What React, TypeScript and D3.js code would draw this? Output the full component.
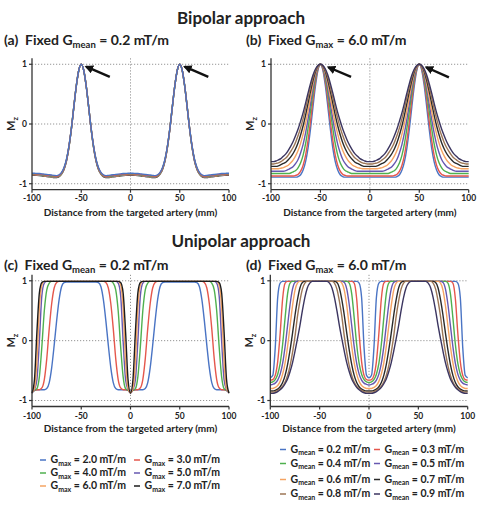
import React from 'react';
import * as d3 from 'd3';

// Offsets (mm) from each labeling-plane centre at which the half-profiles are sampled
const OFFSETS = [0, 2.5, 5, 7.5, 10, 12.5, 15, 17.5, 20, 22.5, 25, 27.5, 30, 32.5, 35, 37.5, 40, 42.5, 45, 47.5, 50];
const PEAK_CENTERS = [-50, 50];
const X_TICKS = [-100, -50, 0, 50, 100];
const Y_TICKS = [-1, 0, 1];

const GMAX_LABELS = ['2.0', '3.0', '4.0', '5.0', '6.0', '7.0'];
const GMEAN_LABELS = ['0.2', '0.3', '0.4', '0.5', '0.6', '0.7', '0.8', '0.9'];

const GMAX_COLORS = ['#4a74c4', '#e5574c', '#4fb04f', '#6658b0', '#f5a463', '#1c1c1c'];
const GMEAN_COLORS = ['#4a74c4', '#e5574c', '#4fb04f', '#6658b0', '#f5a463', '#2a2a2a', '#9c7656', '#3b3560'];

// (a) Bipolar, fixed Gmean = 0.2 mT/m, one half-profile per Gmax
const A_G20 = [1, 0.9, 0.64, 0.29, -0.07, -0.37, -0.59, -0.73, -0.81, -0.85, -0.865, -0.86, -0.855, -0.85, -0.845, -0.84, -0.835, -0.83, -0.83, -0.825, -0.825];
const A_G30 = [1, 0.9, 0.64, 0.29, -0.07, -0.37, -0.6, -0.74, -0.82, -0.86, -0.875, -0.87, -0.865, -0.86, -0.855, -0.85, -0.845, -0.84, -0.84, -0.835, -0.835];
const A_G40 = [1, 0.9, 0.64, 0.29, -0.07, -0.38, -0.6, -0.745, -0.825, -0.865, -0.88, -0.878, -0.872, -0.866, -0.86, -0.855, -0.85, -0.846, -0.843, -0.84, -0.84];
const A_G50 = [1, 0.9, 0.64, 0.29, -0.08, -0.38, -0.61, -0.75, -0.83, -0.87, -0.886, -0.884, -0.878, -0.872, -0.866, -0.86, -0.855, -0.851, -0.848, -0.846, -0.845];
const A_G60 = [1, 0.9, 0.64, 0.29, -0.08, -0.39, -0.61, -0.755, -0.835, -0.875, -0.89, -0.89, -0.884, -0.878, -0.872, -0.866, -0.861, -0.857, -0.854, -0.852, -0.851];
const A_G70 = [1, 0.9, 0.64, 0.29, -0.08, -0.39, -0.62, -0.76, -0.84, -0.88, -0.895, -0.895, -0.89, -0.884, -0.878, -0.872, -0.867, -0.863, -0.86, -0.858, -0.857];

// (b) Bipolar, fixed Gmax = 6.0 mT/m, one half-profile per Gmean
const B_M02 = [1, 0.9, 0.64, 0.29, -0.08, -0.4, -0.63, -0.77, -0.85, -0.88, -0.89, -0.89, -0.89, -0.89, -0.89, -0.89, -0.89, -0.89, -0.89, -0.89, -0.89];
const B_M03 = [1, 0.92, 0.71, 0.41, 0.05, -0.27, -0.52, -0.69, -0.79, -0.84, -0.86, -0.87, -0.87, -0.87, -0.87, -0.87, -0.87, -0.87, -0.87, -0.87, -0.87];
const B_M04 = [1, 0.94, 0.77, 0.52, 0.22, -0.07, -0.33, -0.52, -0.65, -0.73, -0.78, -0.8, -0.82, -0.83, -0.83, -0.83, -0.83, -0.83, -0.83, -0.83, -0.83];
const B_M05 = [1, 0.95, 0.81, 0.6, 0.34, 0.08, -0.15, -0.34, -0.48, -0.59, -0.66, -0.71, -0.74, -0.76, -0.78, -0.79, -0.79, -0.79, -0.79, -0.79, -0.79];
const B_M06 = [1, 0.96, 0.85, 0.67, 0.45, 0.22, 0.01, -0.17, -0.32, -0.44, -0.53, -0.6, -0.65, -0.69, -0.71, -0.73, -0.74, -0.75, -0.75, -0.75, -0.75];
const B_M07 = [1, 0.97, 0.88, 0.73, 0.55, 0.35, 0.15, -0.03, -0.18, -0.31, -0.41, -0.49, -0.55, -0.6, -0.64, -0.66, -0.68, -0.7, -0.71, -0.71, -0.71];
const B_M08 = [1, 0.97, 0.9, 0.78, 0.62, 0.44, 0.26, 0.09, -0.06, -0.19, -0.3, -0.39, -0.46, -0.52, -0.57, -0.6, -0.63, -0.65, -0.66, -0.67, -0.67];
const B_M09 = [1, 0.98, 0.92, 0.82, 0.68, 0.52, 0.35, 0.19, 0.05, -0.08, -0.19, -0.29, -0.37, -0.44, -0.5, -0.54, -0.58, -0.6, -0.62, -0.63, -0.63];

// (c) Unipolar, fixed Gmean = 0.2 mT/m, one half-profile per Gmax
const C_G20 = [0.98, 0.98, 0.98, 0.98, 0.98, 0.98, 0.98, 0.97, 0.9, 0.68, 0.33, -0.08, -0.45, -0.7, -0.8, -0.82, -0.82, -0.82, -0.82, -0.83, -0.84];
const C_G30 = [0.99, 0.99, 0.99, 0.99, 0.99, 0.99, 0.99, 0.99, 0.99, 0.99, 0.97, 0.88, 0.62, 0.2, -0.3, -0.65, -0.79, -0.82, -0.82, -0.83, -0.85];
const C_G40 = [0.99, 0.99, 0.99, 0.99, 0.99, 0.99, 0.99, 0.99, 0.99, 0.99, 0.99, 0.99, 0.99, 0.96, 0.85, 0.5, -0.1, -0.6, -0.8, -0.83, -0.86];
const C_G50 = [0.99, 0.99, 0.99, 0.99, 0.99, 0.99, 0.99, 0.99, 0.99, 0.99, 0.99, 0.99, 0.99, 0.99, 0.99, 0.96, 0.75, 0.0, -0.65, -0.82, -0.87];
const C_G60 = [0.99, 0.99, 0.99, 0.99, 0.99, 0.99, 0.99, 0.99, 0.99, 0.99, 0.99, 0.99, 0.99, 0.99, 0.99, 0.99, 0.93, 0.55, -0.35, -0.8, -0.87];
const C_G70 = [0.99, 0.99, 0.99, 0.99, 0.99, 0.99, 0.99, 0.99, 0.99, 0.99, 0.99, 0.99, 0.99, 0.99, 0.99, 0.99, 0.97, 0.8, 0.15, -0.65, -0.88];

// (d) Unipolar, fixed Gmax = 6.0 mT/m, one half-profile per Gmean
const D_M02 = [0.99, 0.99, 0.99, 0.99, 0.99, 0.99, 0.99, 0.99, 0.99, 0.99, 0.99, 0.99, 0.99, 0.99, 0.99, 0.99, 0.96, 0.72, -0.12, -0.58, -0.62];
const D_M03 = [0.99, 0.99, 0.99, 0.99, 0.99, 0.99, 0.99, 0.99, 0.99, 0.99, 0.99, 0.99, 0.99, 0.99, 0.96, 0.7, 0.12, -0.35, -0.58, -0.65, -0.66];
const D_M04 = [0.99, 0.99, 0.99, 0.99, 0.99, 0.99, 0.99, 0.99, 0.99, 0.99, 0.99, 0.99, 0.96, 0.78, 0.38, -0.06, -0.38, -0.56, -0.65, -0.69, -0.7];
const D_M05 = [0.99, 0.99, 0.99, 0.99, 0.99, 0.99, 0.99, 0.99, 0.99, 0.99, 0.97, 0.86, 0.6, 0.25, -0.1, -0.38, -0.56, -0.66, -0.71, -0.73, -0.74];
const D_M06 = [0.99, 0.99, 0.99, 0.99, 0.99, 0.99, 0.99, 0.99, 0.99, 0.96, 0.84, 0.58, 0.24, -0.1, -0.37, -0.56, -0.68, -0.75, -0.78, -0.8, -0.8];
const D_M07 = [0.99, 0.99, 0.99, 0.99, 0.99, 0.99, 0.99, 0.97, 0.88, 0.68, 0.42, 0.12, -0.16, -0.4, -0.58, -0.7, -0.77, -0.81, -0.83, -0.84, -0.84];
const D_M08 = [0.99, 0.99, 0.99, 0.99, 0.99, 0.99, 0.96, 0.86, 0.66, 0.4, 0.07, -0.2, -0.42, -0.58, -0.69, -0.76, -0.8, -0.83, -0.85, -0.86, -0.86];
const D_M09 = [0.99, 0.99, 0.99, 0.99, 0.96, 0.88, 0.72, 0.5, 0.25, 0.03, -0.18, -0.37, -0.52, -0.64, -0.72, -0.78, -0.82, -0.85, -0.87, -0.88, -0.88];

const A_SERIES = [A_G20, A_G30, A_G40, A_G50, A_G60, A_G70];
const B_SERIES = [B_M02, B_M03, B_M04, B_M05, B_M06, B_M07, B_M08, B_M09];
const C_SERIES = [C_G20, C_G30, C_G40, C_G50, C_G60, C_G70];
const D_SERIES = [D_M02, D_M03, D_M04, D_M05, D_M06, D_M07, D_M08, D_M09];

// Arrows marking the labeling planes: [headX, headY, tailX, tailY] in data units
const ARROWS_A = [[-45, 0.96, -21, 0.79], [55, 0.96, 79, 0.79]];
const ARROWS_B = [[-42, 0.95, -19, 0.79], [57, 0.95, 80, 0.78]];

const FONT = "Lato, 'Open Sans', sans-serif";

type Pt = [number, number];

// Unfold a half-profile into the full -100..100 mm profile around both planes
function unfold(half: number[]): Pt[] {
  const pts: Pt[] = [];
  PEAK_CENTERS.forEach((c, pi) => {
    for (let i = OFFSETS.length - 1; i >= 0; i--) {
      if (pi > 0 && i === OFFSETS.length - 1) continue;
      pts.push([c - OFFSETS[i], half[i]]);
    }
    for (let i = 1; i < OFFSETS.length; i++) pts.push([c + OFFSETS[i], half[i]]);
  });
  return pts;
}

interface PanelProps {
  left: number;
  right: number;
  top: number;
  bottom: number;
  series: number[][];
  colors: string[];
  arrows?: number[][];
  topFirst?: boolean;
  tickBaseline: number;
  titleBaseline: number;
}

function Panel({ left, right, top, bottom, series, colors, arrows, topFirst, tickBaseline, titleBaseline }: PanelProps) {
  const x = d3.scaleLinear().domain([-100, 100]).range([left, right]);
  const y = d3.scaleLinear().domain([-1.1, 1.1]).range([bottom, top]);
  const line = d3.line<Pt>().x(d => x(d[0])).y(d => y(d[1])).curve(d3.curveMonotoneX);
  const order = series.map((_, i) => i);
  if (topFirst) order.reverse();
  const midY = (top + bottom) / 2;
  return (
    <g>
      {/* dotted reference lines */}
      {Y_TICKS.map(t => (
        <line key={'gy' + t} x1={x(-100)} x2={x(100)} y1={y(t)} y2={y(t)} stroke="#8a8a8a" strokeWidth={0.9} strokeDasharray="1.2,1.8" />
      ))}
      <line x1={x(0)} x2={x(0)} y1={y(1.1)} y2={y(-1.1)} stroke="#8a8a8a" strokeWidth={0.9} strokeDasharray="1.2,1.8" />
      {order.map(i => (
        <path key={i} d={line(unfold(series[i])) || ''} fill="none" stroke={colors[i]} strokeWidth={1.4} strokeLinejoin="round" />
      ))}
      {/* axes */}
      <line x1={x(-100)} x2={x(-100)} y1={y(1.1)} y2={y(-1.1)} stroke="#333" strokeWidth={1.3} />
      <line x1={x(-100)} x2={x(100)} y1={y(-1.1)} y2={y(-1.1)} stroke="#333" strokeWidth={1.3} />
      {Y_TICKS.map(t => (
        <g key={'yt' + t}>
          <line x1={x(-100) - 3} x2={x(-100)} y1={y(t)} y2={y(t)} stroke="#333" strokeWidth={1.2} />
          <text x={x(-100) - 5} y={y(t)} dy="0.35em" textAnchor="end" fontSize={8.5} fontWeight="bold" fill="#222">{t}</text>
        </g>
      ))}
      {X_TICKS.map(t => (
        <g key={'xt' + t}>
          <line x1={x(t)} x2={x(t)} y1={y(-1.1)} y2={y(-1.1) + 3} stroke="#333" strokeWidth={1.2} />
          <text x={x(t)} y={tickBaseline} textAnchor="middle" fontSize={8.5} fontWeight="bold" fill="#222">{t}</text>
        </g>
      ))}
      <text x={(x(-100) + x(100)) / 2} y={titleBaseline} textAnchor="middle" fontSize={10} fontWeight="bold" fill="#222">
        Distance from the targeted artery (mm)
      </text>
      <text transform={`translate(${x(-100) - 17},${midY}) rotate(-90)`} textAnchor="middle" fontSize={11} fontWeight="bold" fill="#222">
        M<tspan fontSize={7.5} dy={2.5}>z</tspan>
      </text>
      {arrows && arrows.map((a, i) => (
        <line key={'ar' + i} x1={x(a[2])} y1={y(a[3])} x2={x(a[0])} y2={y(a[1])} stroke="#111" strokeWidth={2.4} markerEnd="url(#arrowHead)" />
      ))}
    </g>
  );
}

function PanelTitle({ x, y, tag, sub, value }: { x: number; y: number; tag: string; sub: string; value: string }) {
  return (
    <text x={x} y={y} fontSize={14} fontWeight="bold" fill="#222" xmlSpace="preserve">
      {tag}{'  '}Fixed G<tspan fontSize={9.5} dy={3}>{sub}</tspan><tspan dy={-3}>{` = ${value} mT/m`}</tspan>
    </text>
  );
}

function Legend({ labels, colors, sub, cols, rows }: { labels: string[]; colors: string[]; sub: string; cols: number[]; rows: number[] }) {
  return (
    <g>
      {labels.map((lab, i) => {
        const cx = cols[i % 2];
        const cy = rows[Math.floor(i / 2)];
        return (
          <g key={lab}>
            <line x1={cx} x2={cx + 6} y1={cy} y2={cy} stroke={colors[i]} strokeWidth={1.5} />
            <text x={cx + 10.5} y={cy} dy="0.33em" fontSize={10.5} fontWeight="bold" fill="#222">
              G<tspan fontSize={7} dy={2.5}>{sub}</tspan><tspan dy={-2.5}>{` = ${lab} mT/m`}</tspan>
            </text>
          </g>
        );
      })}
    </g>
  );
}

export default function App() {
  return (
    <svg width={483} height={505} style={{ position: 'absolute', left: 0, top: 0, background: '#fff', fontFamily: FONT }}>
      <defs>
        <marker id="arrowHead" viewBox="0 0 10 10" refX={8} refY={5} markerWidth={3.6} markerHeight={3.6} orient="auto">
          <path d="M0,0 L10,5 L0,10 z" fill="#111" />
        </marker>
      </defs>
      <rect width={483} height={505} fill="#fff" />

      <text x={241} y={24} textAnchor="middle" fontSize={17} fontWeight="bold" fill="#222">Bipolar approach</text>
      <PanelTitle x={4} y={45} tag="(a)" sub="mean" value="0.2" />
      <PanelTitle x={246} y={45} tag="(b)" sub="max" value="6.0" />

      <Panel left={32} right={229} top={58.3} bottom={189.7} series={A_SERIES} colors={GMAX_COLORS} arrows={ARROWS_A} topFirst tickBaseline={200.7} titleBaseline={216} />
      <Panel left={271} right={468.7} top={58.3} bottom={189.7} series={B_SERIES} colors={GMEAN_COLORS} arrows={ARROWS_B} tickBaseline={200.7} titleBaseline={216} />

      <text x={241} y={247} textAnchor="middle" fontSize={17} fontWeight="bold" fill="#222">Unipolar approach</text>
      <PanelTitle x={4} y={269.5} tag="(c)" sub="mean" value="0.2" />
      <PanelTitle x={246} y={269.5} tag="(d)" sub="max" value="6.0" />

      <Panel left={32} right={229} top={274.8} bottom={406.5} series={C_SERIES} colors={GMAX_COLORS} tickBaseline={418.5} titleBaseline={432} />
      <Panel left={270.3} right={467.7} top={274.8} bottom={406.5} series={D_SERIES} colors={GMEAN_COLORS} tickBaseline={418.5} titleBaseline={432} />

      <Legend labels={GMAX_LABELS} colors={GMAX_COLORS} sub="max" cols={[40, 134]} rows={[460, 473, 486]} />
      <Legend labels={GMEAN_LABELS} colors={GMEAN_COLORS} sub="mean" cols={[280, 374]} rows={[449.5, 463.5, 479.5, 494]} />
    </svg>
  );
}
